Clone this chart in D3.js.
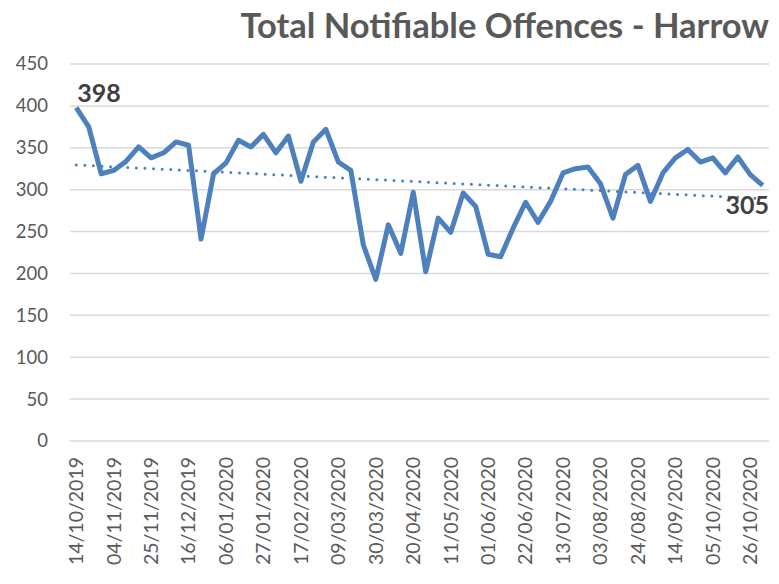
<!DOCTYPE html>
<html>
<head>
<meta charset="utf-8">
<script src="https://cdn.jsdelivr.net/npm/d3@7"></script>
<style>
  body { margin: 0; background: #fff; }
  text { font-family: Lato, "Open Sans", sans-serif; }
</style>
</head>
<body>
<div id="chart"></div>
<script>
// weekly counts, week starting 14/10/2019 .. 02/11/2020
var weeks = d3.range(56).map(function (i) {
    return d3.timeWeek.offset(new Date(2019, 9, 14), i);
});
var offences = [398, 375, 319, 323, 334, 351, 338, 344, 357, 353,
                241, 319, 332, 359, 351, 366, 344, 364, 310, 357,
                372, 333, 323, 234, 193, 258, 224, 297, 202, 266,
                249, 296, 280, 223, 220, 254, 285, 261, 286, 320,
                325, 327, 307, 266, 318, 329, 286, 320, 338, 348,
                333, 338, 320, 339, 318, 305];
var yTicks = [0, 50, 100, 150, 200, 250, 300, 350, 400, 450];
var title = "Total Notifiable Offences - Harrow";

var fmt = d3.timeFormat("%d/%m/%Y");
var width = 779, height = 584;
var margin = {left: 70, right: 10, top: 64, bottom: 143};

var svg = d3.select("#chart").append("svg")
    .attr("width", width)
    .attr("height", height);

var x = d3.scaleBand()
    .domain(d3.range(weeks.length))
    .range([margin.left, width - margin.right]);
var y = d3.scaleLinear()
    .domain([0, 450])
    .range([height - margin.bottom, margin.top]);

var cx = function (i) { return x(i) + x.bandwidth() / 2; };

// gridlines
svg.append("g").selectAll("line")
    .data(yTicks)
    .enter().append("line")
    .attr("x1", margin.left)
    .attr("x2", width - margin.right)
    .attr("y1", function (d) { return y(d); })
    .attr("y2", function (d) { return y(d); })
    .attr("stroke", "#d9d9d9")
    .attr("stroke-width", 1.5);

// y axis labels
var yAxis = svg.append("g")
    .attr("transform", "translate(" + (margin.left - 22) + ",0)")
    .call(d3.axisLeft(y).tickValues(yTicks).tickSize(0).tickPadding(0));
yAxis.select(".domain").remove();
yAxis.selectAll("text")
    .attr("fill", "#595959")
    .style("font-size", "18.5px");

// x axis labels, one every 3 weeks
var xAxis = svg.append("g")
    .attr("transform", "translate(0," + (height - margin.bottom) + ")")
    .call(d3.axisBottom(x)
        .tickValues(d3.range(0, weeks.length, 3))
        .tickFormat(function (i) { return fmt(weeks[i]); })
        .tickSize(0));
xAxis.select(".domain").remove();
xAxis.selectAll("text")
    .attr("fill", "#595959")
    .style("font-size", "19.5px")
    .attr("text-anchor", "end")
    .attr("transform", "rotate(-90)")
    .attr("x", -16)
    .attr("y", 0)
    .attr("dy", "0.35em");

// linear trendline
var n = offences.length;
var mx = d3.mean(d3.range(n)), my = d3.mean(offences);
var slope = d3.sum(d3.range(n), function (i) { return (i - mx) * (offences[i] - my); }) /
    d3.sum(d3.range(n), function (i) { return (i - mx) * (i - mx); });
var icpt = my - slope * mx;

svg.append("line")
    .attr("x1", cx(0))
    .attr("x2", cx(n - 1))
    .attr("y1", y(icpt))
    .attr("y2", y(icpt + slope * (n - 1)))
    .attr("stroke", "#4e80bd")
    .attr("stroke-width", 3)
    .attr("stroke-linecap", "round")
    .attr("stroke-dasharray", "0 8.6");

// main series
var line = d3.line()
    .x(function (d, i) { return cx(i); })
    .y(function (d) { return y(d); });

svg.append("path")
    .datum(offences)
    .attr("d", line)
    .attr("fill", "none")
    .attr("stroke", "#4e80bd")
    .attr("stroke-width", 5)
    .attr("stroke-linejoin", "round");

// first/last labels
svg.append("text")
    .attr("x", cx(0) + 1)
    .attr("y", y(offences[0]) - 6)
    .attr("fill", "#404040")
    .style("font-size", "25px")
    .style("font-weight", "bold")
    .text(offences[0]);

svg.append("text")
    .attr("x", width - 10)
    .attr("y", y(offences[n - 1]) + 29)
    .attr("text-anchor", "end")
    .attr("fill", "#404040")
    .style("font-size", "25px")
    .style("font-weight", "bold")
    .text(offences[n - 1]);

// title
svg.append("text")
    .attr("x", width - 10)
    .attr("y", 38)
    .attr("text-anchor", "end")
    .attr("fill", "#595959")
    .style("font-size", "34.5px")
    .style("font-weight", "bold")
    .text(title);
</script>
</body>
</html>
